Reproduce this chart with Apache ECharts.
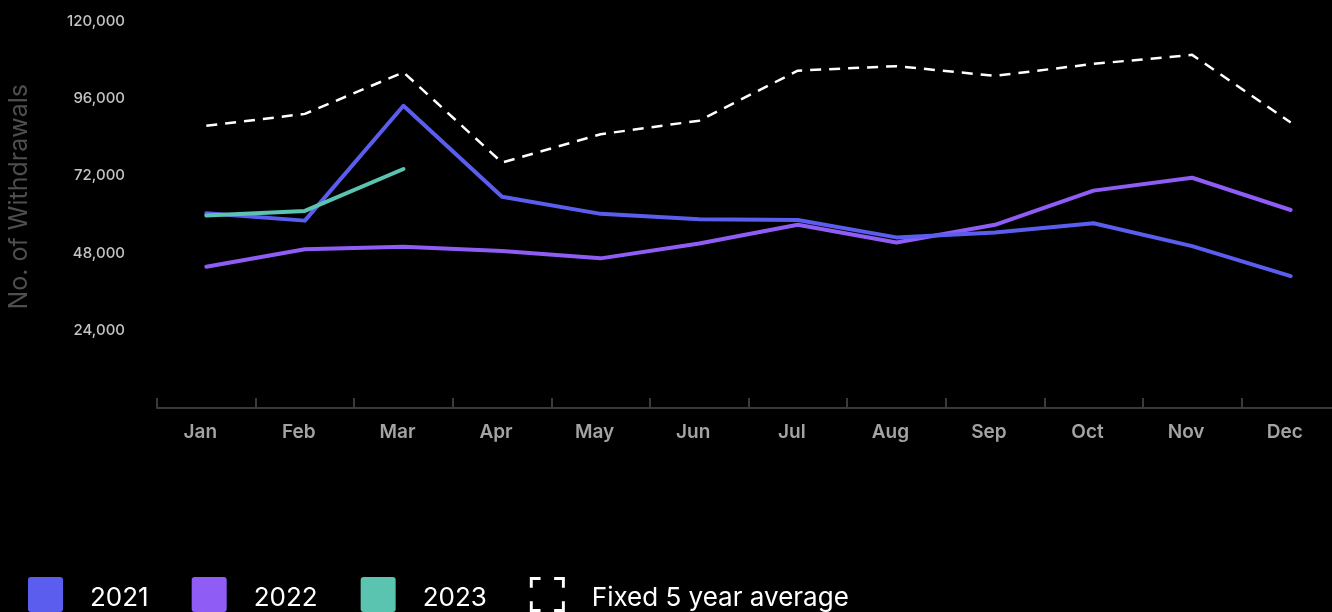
<!DOCTYPE html>
<html>
<head>
<meta charset="utf-8">
<script src="https://cdn.jsdelivr.net/npm/echarts@6/dist/echarts.min.js"></script>
<style>
html,body{margin:0;padding:0;background:#000;}
#c{width:1332px;height:612px;}
</style>
</head>
<body>
<div id="c"></div>
<script>
const months = ['Jan','Feb','Mar','Apr','May','Jun','Jul','Aug','Sep','Oct','Nov','Dec'];
const y2021 = [60400, 58100, 93700, 65500, 60200, 58500, 58300, 52900, 54400, 57300, 50200, 40900];
const y2022 = [43800, 49200, 50000, 48700, 46400, 51000, 56800, 51300, 56800, 67400, 71400, 61400];
const y2023 = [59700, 61100, 74100];
const avg5 = [87500, 91200, 104100, 76100, 84900, 89100, 104600, 106000, 103000, 106700, 109500, 88500];
const yTicks = [0, 24000, 48000, 72000, 96000, 120000];

const FONT = 'Inter, "Noto Sans", sans-serif';
const SQUARE = 'path://M3 0H32A3 3 0 0 1 35 3V32A3 3 0 0 1 32 35H3A3 3 0 0 1 0 32V3A3 3 0 0 1 3 0Z';
const chart = echarts.init(document.getElementById('c'), null, {renderer:'canvas'});
const lineBase = (name, data, color) => ({
  name, type:'line', data, symbol:'none', smooth:false,
  lineStyle:{color, width:4, cap:'round', join:'round'},
  itemStyle:{color}
});
chart.setOption({
  backgroundColor:'#000',
  animation:false,
  grid:{left:157, width:1183, top:21, bottom:204, outerBoundsMode:'none', containLabel:false},
  xAxis:{
    type:'category', data:months, boundaryGap:true,
    axisLine:{show:true, lineStyle:{color:'#3a3a3a', width:2}},
    axisTick:{show:true, inside:true, length:10, lineStyle:{color:'#3a3a3a', width:2}},
    axisLabel:{color:'#a3a3a3', fontSize:19, fontWeight:600, fontFamily:FONT, margin:15, padding:[0,12,0,0]},
    splitLine:{show:false}
  },
  yAxis:{
    type:'value', min:yTicks[0], max:yTicks[yTicks.length-1], interval:24000,
    axisLine:{show:false}, axisTick:{show:false}, splitLine:{show:false},
    axisLabel:{color:'#c4c4c4', fontSize:15, fontWeight:500, fontFamily:FONT, margin:32, showMinLabel:false,
      formatter:v => v.toLocaleString('en-US')}
  },
  graphic:[{
    type:'text', left:7, top:84, rotation:Math.PI/2, originX:0, originY:0,
    style:{text:'No. of Withdrawals', fill:'#4f4f4f', fontSize:25, fontFamily:FONT}
  }],
  legend:{
    left:28, top:577, padding:0, itemWidth:35, itemHeight:35, itemGap:43,
    formatter:'{t|{name}}',
    textStyle:{color:'#fff', fontSize:26, fontFamily:FONT, padding:[0,0,0,22],
      rich:{t:{color:'#fff', fontSize:26, fontFamily:FONT, padding:[7,0,0,0]}}},
    data:[
      {name:'2021', icon:SQUARE, itemStyle:{color:'#5a5ded'}},
      {name:'2022', icon:SQUARE, itemStyle:{color:'#8f5cf5'}},
      {name:'2023', icon:SQUARE, itemStyle:{color:'#5bc4b0'}},
      {name:'Fixed 5 year average', itemStyle:{color:'#fff'},
       icon:'path://M0 0H11V3H3V11H0Z M25 0H36V11H33V3H25Z M0 25H3V33H11V36H0Z M33 25H36V36H25V33H33Z'}
    ]
  },
  series:[
    Object.assign(lineBase('Fixed 5 year average', avg5, '#ffffff'), {lineStyle:{color:'#fff', width:2.5, type:[11,8]}}),
    lineBase('2022', y2022, '#8f5cf5'),
    lineBase('2021', y2021, '#5a5ded'),
    lineBase('2023', y2023, '#5bc4b0')
  ]
});
</script>
</body>
</html>
